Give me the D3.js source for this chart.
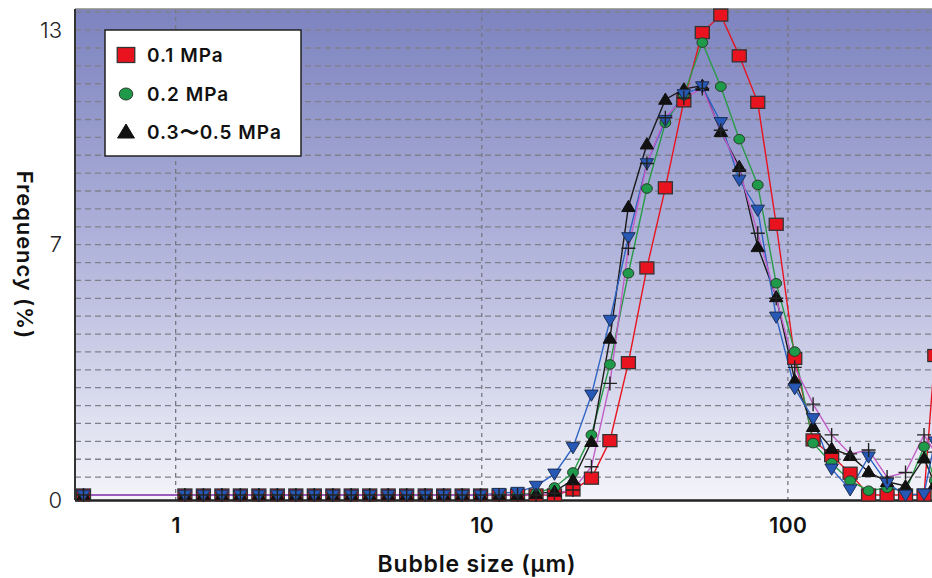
<!DOCTYPE html>
<html>
<head>
<meta charset="utf-8">
<script src="https://cdn.jsdelivr.net/npm/d3@7"></script>
<style>
  body { margin: 0; background: #fff; }
  svg { display: block; font-family: Inter, "Noto Sans", sans-serif; }
</style>
</head>
<body>
<svg id="chart" width="932" height="578"></svg>
<script>
// Bubble size bins (um)
const sizes = [0.5,
    1.072, 1.232, 1.416, 1.627, 1.870, 2.149, 2.469, 2.838, 3.262, 3.746,
    4.305, 4.947, 5.684, 6.534, 7.507, 8.628, 9.911, 11.39, 13.09, 15.04,
    17.28, 19.86, 22.82, 26.22, 30.13, 34.63, 39.79, 45.72, 52.54, 60.37,
    69.37, 79.71, 91.60, 105.3, 120.9, 139.0, 159.7, 183.5, 210.9, 242.3,
    278.5, 302];

// Frequency (%) per series
const mpa01 = [0,
    0, 0, 0, 0, 0, 0, 0, 0, 0, 0,
    0, 0, 0, 0, 0, 0, 0, 0, 0, 0,
    0, 0.14, 0.47, 1.52, 3.70, 6.35, 8.59, 11.02, 12.93, 13.42,
    12.28, 10.98, 7.57, 3.82, 1.54, 1.10, 0.61, 0, 0, 0,
    0, 3.9];
const mpa02 = [0,
    0, 0, 0, 0, 0, 0, 0, 0, 0, 0,
    0, 0, 0, 0, 0, 0, 0, 0, 0, 0.05,
    0.21, 0.63, 1.68, 3.65, 6.2, 8.57, 10.41, 11.18, 12.65, 11.42,
    9.95, 8.67, 5.92, 4.01, 1.45, 0.89, 0.40, 0.12, 0.20, 0.10,
    1.35, 0.4];
const mpa0305 = [0,
    0, 0, 0, 0, 0, 0, 0, 0, 0, 0,
    0, 0, 0, 0, 0, 0, 0, 0, 0, 0.03,
    0.10, 0.42, 1.49, 4.38, 8.06, 9.81, 11.06, 11.35, 11.45, 10.16,
    9.18, 6.94, 5.54, 3.21, 1.91, 1.30, 1.10, 0.65, 0.37, 0.25,
    1.03, 0.3];
const blueSeries = [0,
    0, 0, 0, 0, 0, 0, 0, 0, 0, 0,
    0, 0, 0, 0, 0, 0, 0, 0.05, 0.08, 0.25,
    0.59, 1.33, 2.80, 4.89, 7.2, 9.27, 10.48, 11.2, 11.42, 10.42,
    8.81, 7.97, 4.98, 2.98, 2.14, 0.73, 0.15, 1.07, 0.33, 0,
    0.03, 1.49];
const plusSeries = [0,
    0, 0, 0, 0, 0, 0, 0, 0, 0, 0,
    0, 0, 0, 0, 0, 0, 0, 0, 0, 0,
    0.05, 0.14, 0.79, 3.12, 6.9, 9.27, 10.55, 11.1, 11.37, 10.2,
    9.09, 7.32, 5.5, 3.57, 2.54, 1.68, 1.15, 1.26, 0.5, 0.63,
    1.68, 1.2];

const xTicks = [1, 10, 100];
const yTicks = [0, 7, 13];
const legendLabels = ["0.1 MPa", "0.2 MPa", "0.3\u301C0.5 MPa"];

const svg = d3.select("#chart");

// plot area
const plotLeft = 75, plotRight = 960, plotTop = 9, plotBottom = 500;

const x = d3.scaleLog().domain([0.469, 365]).range([plotLeft, plotRight]);
const y = d3.scaleLinear().domain([-0.14, 13.59]).range([plotBottom, plotTop]);

// background gradient
const defs = svg.append("defs");
const grad = defs.append("linearGradient")
    .attr("id", "bg").attr("x1", 0).attr("y1", 0).attr("x2", 0).attr("y2", 1);
grad.append("stop").attr("offset", "0%").attr("stop-color", "#7c83bf");
grad.append("stop").attr("offset", "50%").attr("stop-color", "#b2b5db");
grad.append("stop").attr("offset", "100%").attr("stop-color", "#f4f4fa");

svg.append("rect")
    .attr("x", plotLeft).attr("y", plotTop)
    .attr("width", plotRight - plotLeft).attr("height", plotBottom - plotTop)
    .attr("fill", "url(#bg)");

// horizontal grid every 0.5
const gridVals = d3.range(0.5, 13.6, 0.5);
svg.append("g").selectAll("line")
    .data(gridVals)
    .join("line")
    .attr("x1", plotLeft).attr("x2", plotRight)
    .attr("y1", d => y(d)).attr("y2", d => y(d))
    .attr("stroke", "#80808c")
    .attr("stroke-width", 1.3)
    .attr("stroke-dasharray", "6,4");

// vertical grid at decades
svg.append("g").selectAll("line")
    .data(xTicks)
    .join("line")
    .attr("x1", d => x(d)).attr("x2", d => x(d))
    .attr("y1", plotTop).attr("y2", plotBottom)
    .attr("stroke", "#777784")
    .attr("stroke-width", 1.3)
    .attr("stroke-dasharray", "4,4");

// frame
svg.append("line").attr("x1", plotLeft).attr("x2", plotRight).attr("y1", plotTop).attr("y2", plotTop)
    .attr("stroke", "#8a8a8a").attr("stroke-width", 1.5);
svg.append("line").attr("x1", plotLeft).attr("x2", plotLeft).attr("y1", plotTop).attr("y2", plotBottom)
    .attr("stroke", "#333").attr("stroke-width", 2);
svg.append("line").attr("x1", plotLeft).attr("x2", plotRight).attr("y1", plotBottom + 0.5).attr("y2", plotBottom + 0.5)
    .attr("stroke", "#222").attr("stroke-width", 2.5);

// series setup
const series = [
    { name: "red", values: mpa01, color: "#e8131f", marker: "square", fill: "#e8131f" },
    { name: "green", values: mpa02, color: "#2a9a48", marker: "circle", fill: "#1f9a4a" },
    { name: "black", values: mpa0305, color: "#1a1a1a", marker: "triangle", fill: "#111" },
    { name: "blue", values: blueSeries, color: "#2d63c4", marker: "triangleDown", fill: "#2858b5" },
    { name: "plus", values: plusSeries, color: "#c25ec6", marker: "plus", fill: "none" }
];

const line = d3.line()
    .x(d => x(d[0]))
    .y(d => y(d[1]));

const plotG = svg.append("g");

series.forEach(s => {
    const pts = sizes.map((sz, i) => [sz, s.values[i]]);
    plotG.append("path")
        .datum(pts)
        .attr("fill", "none")
        .attr("stroke", s.color)
        .attr("stroke-width", 1.4)
        .attr("d", line);
});

function drawMarker(g, type, cx, cy, fill, big) {
    const k = big ? 1.25 : 1;
    if (type === "square") {
        g.append("rect")
            .attr("x", cx - 7 * k).attr("y", cy - 6 * k)
            .attr("width", 14 * k).attr("height", 12 * k)
            .attr("fill", fill).attr("stroke", "#333").attr("stroke-width", 1.3);
    } else if (type === "circle") {
        g.append("ellipse")
            .attr("cx", cx).attr("cy", cy).attr("rx", 5.4 * k).attr("ry", 4.8 * k)
            .attr("fill", fill).attr("stroke", "#2a3a2a").attr("stroke-width", 1);
    } else if (type === "triangle") {
        const h = 6.4 * k;
        g.append("path")
            .attr("d", `M${cx},${cy - h}L${cx + h * 1.05},${cy + h * 0.75}L${cx - h * 1.05},${cy + h * 0.75}Z`)
            .attr("fill", fill).attr("stroke", "#111").attr("stroke-width", 1);
    } else if (type === "triangleDown") {
        const h = 6.4 * k;
        g.append("path")
            .attr("d", `M${cx},${cy + h}L${cx + h * 1.05},${cy - h * 0.75}L${cx - h * 1.05},${cy - h * 0.75}Z`)
            .attr("fill", fill).attr("stroke", "#1c2f55").attr("stroke-width", 1);
    } else if (type === "plus") {
        g.append("path")
            .attr("d", `M${cx - 7},${cy}H${cx + 7}M${cx},${cy - 7}V${cy + 7}`)
            .attr("stroke", "#222").attr("stroke-width", 1.4);
    }
}

series.forEach(s => {
    const g = plotG.append("g");
    sizes.forEach((sz, i) => {
        drawMarker(g, s.marker, x(sz), y(s.values[i]), s.fill, false);
    });
});

// axes
const yAxis = d3.axisLeft(y).tickValues(yTicks).tickSize(0).tickPadding(13).tickFormat(d3.format("d"));
const yG = svg.append("g").attr("transform", `translate(${plotLeft},0)`).call(yAxis);
yG.select(".domain").remove();
yG.selectAll("text")
    .attr("font-size", 22)
    .attr("font-family", "Inter, sans-serif")
    .attr("font-weight", 300)
    .attr("fill", "#222")
    .filter(d => d === 0).attr("dy", "0.55em");

const xAxis = d3.axisBottom(x).tickValues(xTicks).tickSize(0).tickPadding(18).tickFormat(d3.format("d"));
const xG = svg.append("g").attr("transform", `translate(0,${plotBottom})`).call(xAxis);
xG.select(".domain").remove();
xG.selectAll("text")
    .attr("font-size", 21)
    .attr("font-family", "Inter, sans-serif")
    .attr("font-weight", 600)
    .attr("letter-spacing", 0.5)
    .attr("fill", "#111");

// axis titles
svg.append("text")
    .attr("x", 477).attr("y", 572)
    .attr("text-anchor", "middle")
    .attr("font-size", 23).attr("font-weight", 600).attr("fill", "#111")
    .attr("letter-spacing", 0.8)
    .text("Bubble size (\u00B5m)");

svg.append("text")
    .attr("transform", "translate(17,255) rotate(90)")
    .attr("text-anchor", "middle")
    .attr("font-size", 22).attr("font-weight", 600).attr("fill", "#111")
    .attr("letter-spacing", 0.9)
    .text("Frequency (%)");

// legend
const legend = svg.append("g");
legend.append("rect")
    .attr("x", 105).attr("y", 30).attr("width", 196).attr("height", 126)
    .attr("fill", "#fff").attr("stroke", "#222").attr("stroke-width", 1.5);

const legendRows = [55, 94, 132];
legendLabels.forEach((lab, i) => {
    const s = series[i];
    drawMarker(legend, s.marker, 126, legendRows[i], s.fill, true);
    legend.append("text")
        .attr("x", 147).attr("y", legendRows[i])
        .attr("dy", "0.36em")
        .attr("font-size", 19).attr("font-weight", 600).attr("fill", "#111")
        .attr("letter-spacing", 1)
        .text(lab);
});
</script>
</body>
</html>
